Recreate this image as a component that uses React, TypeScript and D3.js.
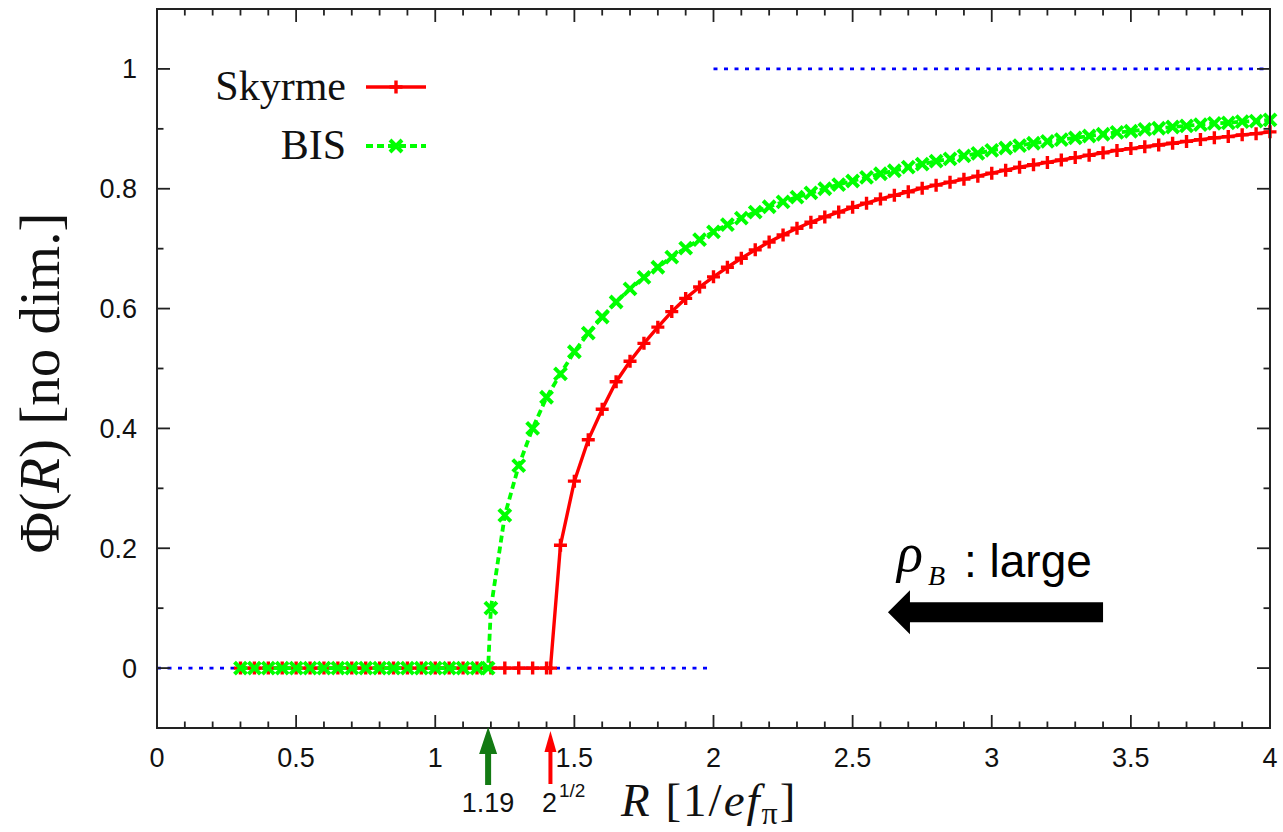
import React from "react";
import * as d3 from "d3";

// ---- data ----
const rGrid: number[] = [
  0.3, 0.35, 0.4, 0.45, 0.5, 0.55, 0.6, 0.65, 0.7, 0.75,
  0.8, 0.85, 0.9, 0.95, 1.0, 1.05, 1.1, 1.15, 1.2, 1.25,
  1.3, 1.35, 1.4, 1.45, 1.5, 1.55, 1.6, 1.65, 1.7, 1.75,
  1.8, 1.85, 1.9, 1.95, 2.0, 2.05, 2.1, 2.15, 2.2, 2.25,
  2.3, 2.35, 2.4, 2.45, 2.5, 2.55, 2.6, 2.65, 2.7, 2.75,
  2.8, 2.85, 2.9, 2.95, 3.0, 3.05, 3.1, 3.15, 3.2, 3.25,
  3.3, 3.35, 3.4, 3.45, 3.5, 3.55, 3.6, 3.65, 3.7, 3.75,
  3.8, 3.85, 3.9, 3.95, 4.0,
];

const skyrmePhi: number[] = [
  0, 0, 0, 0, 0, 0, 0, 0, 0, 0,
  0, 0, 0, 0, 0, 0, 0, 0, 0, 0,
  0, 0, 0, 0.205, 0.312, 0.381, 0.432, 0.478, 0.512, 0.542,
  0.569, 0.595, 0.617, 0.636, 0.653, 0.669, 0.684, 0.698, 0.711, 0.723,
  0.734, 0.744, 0.753, 0.761, 0.769, 0.776, 0.783, 0.789, 0.795, 0.801,
  0.806, 0.811, 0.816, 0.821, 0.826, 0.831, 0.836, 0.84, 0.844, 0.848,
  0.852, 0.856, 0.86, 0.864, 0.867, 0.87, 0.873, 0.876, 0.879, 0.882,
  0.885, 0.887, 0.89, 0.892, 0.895,
];

const bisPhi: number[] = [
  0, 0, 0, 0, 0, 0, 0, 0, 0, 0,
  0, 0, 0, 0, 0, 0, 0, 0, 0.1, 0.255,
  0.338, 0.4, 0.452, 0.491, 0.528, 0.559, 0.586, 0.611, 0.633, 0.652,
  0.669, 0.686, 0.701, 0.715, 0.728, 0.74, 0.751, 0.761, 0.77, 0.778,
  0.786, 0.793, 0.8, 0.807, 0.813, 0.819, 0.825, 0.83, 0.836, 0.841,
  0.846, 0.85, 0.855, 0.859, 0.864, 0.868, 0.872, 0.876, 0.879, 0.882,
  0.885, 0.888, 0.891, 0.894, 0.896, 0.899, 0.901, 0.903, 0.905, 0.907,
  0.909, 0.91, 0.912, 0.913, 0.915,
];

// critical (onset) points where Phi leaves zero
const skyrmeOnset = { r: 1.414, phi: 0 };
const bisOnset = { r: 1.19, phi: 0 };

const xTickLabels = ["0", "0.5", "1", "1.5", "2", "2.5", "3", "3.5", "4"];
const yTickLabels = ["0", "0.2", "0.4", "0.6", "0.8", "1"];

// reference lines: [r0, r1, phi]
const refLines: [number, number, number][] = [
  [0, 2, 0],
  [2, 4, 1],
];

const W = 1283;
const H = 832;
const SERIF = "'Liberation Serif', 'Times New Roman', serif";
const SANS = "'Liberation Sans', Arial, sans-serif";

type Pt = { r: number; phi: number };

function buildSeries(phis: number[], onset: Pt): Pt[] {
  const pts: Pt[] = rGrid.map((r, i) => ({ r, phi: phis[i] }));
  pts.push(onset);
  pts.sort((a, b) => a.r - b.r);
  return pts;
}

export default function App() {
  const x = d3.scaleLinear().domain([0, 4]).range([157, 1270]);
  const y = d3.scaleLinear().domain([-0.1, 1.1]).range([728, 9]);

  const skyrme = buildSeries(skyrmePhi, skyrmeOnset);
  const bis = buildSeries(bisPhi, bisOnset);

  const line = d3
    .line<Pt>()
    .x((d) => x(d.r))
    .y((d) => y(d.phi));

  const plusPath = "M-6.5,0H6.5M0,-6.5V6.5";
  const crossPath = "M-6,-6L6,6M-6,6L6,-6";

  const x0 = x(0), x1 = x(4), yTop = y(1.1), yBot = y(-0.1);

  const xTicks = d3.range(0, 41).map((i) => i / 10);
  const yTicks = d3.range(0, 11).map((i) => i / 10);

  const red = "#ff0000";
  const green = "#00ff00";
  const blue = "#0000ff";
  const axisCol = "#222";

  // annotation arrow (data coordinates)
  const bigArrow = { rTip: 2.627, rTail: 3.4, phi: 0.093 };
  const ax = x(bigArrow.rTip), axe = x(bigArrow.rTail), ay = y(bigArrow.phi);

  const gx = x(bisOnset.r);
  const rx = x(skyrmeOnset.r);

  return (
    <svg
      width={W}
      height={H}
      style={{ position: "absolute", left: 0, top: 0, background: "#fff" }}
    >
      <rect x={0} y={0} width={W} height={H} fill="#fff" />

      {/* reference dotted lines */}
      {refLines.map(([a, b, p], i) => (
        <line
          key={i}
          x1={x(a)}
          x2={x(b)}
          y1={y(p)}
          y2={y(p)}
          stroke={blue}
          strokeWidth={2.6}
          strokeDasharray="4,6.5"
        />
      ))}

      {/* Skyrme */}
      <path d={line(skyrme) || ""} fill="none" stroke={red} strokeWidth={3.4} />
      {skyrme.map((d, i) => (
        <path
          key={"s" + i}
          d={plusPath}
          transform={`translate(${x(d.r)},${y(d.phi)})`}
          stroke={red}
          strokeWidth={3.4}
          fill="none"
        />
      ))}

      {/* BIS */}
      <path
        d={line(bis) || ""}
        fill="none"
        stroke={green}
        strokeWidth={3.8}
        strokeDasharray="7,4"
      />
      {bis.map((d, i) => (
        <path
          key={"b" + i}
          d={crossPath}
          transform={`translate(${x(d.r)},${y(d.phi)})`}
          stroke={green}
          strokeWidth={4}
          fill="none"
        />
      ))}

      {/* frame */}
      <rect
        x={x0}
        y={yTop}
        width={x1 - x0}
        height={yBot - yTop}
        fill="none"
        stroke={axisCol}
        strokeWidth={2}
      />

      {/* x ticks */}
      {xTicks.map((t, i) => {
        const major = i % 5 === 0;
        const len = major ? 13 : 6.5;
        const px = x(t);
        return (
          <g key={"xt" + i}>
            <line x1={px} x2={px} y1={yBot} y2={yBot - len} stroke={axisCol} strokeWidth={1.8} />
            <line x1={px} x2={px} y1={yTop} y2={yTop + len} stroke={axisCol} strokeWidth={1.8} />
          </g>
        );
      })}
      {/* y ticks */}
      {yTicks.map((t, i) => {
        const major = i % 2 === 0;
        const len = major ? 13 : 6.5;
        const py = y(t);
        return (
          <g key={"yt" + i}>
            <line x1={x0} x2={x0 + len} y1={py} y2={py} stroke={axisCol} strokeWidth={1.8} />
            <line x1={x1} x2={x1 - len} y1={py} y2={py} stroke={axisCol} strokeWidth={1.8} />
          </g>
        );
      })}

      {/* x tick labels */}
      {xTickLabels.map((lab) => (
        <text
          key={"xl" + lab}
          x={x(+lab)}
          y={767}
          textAnchor="middle"
          fontFamily={SANS}
          fontSize={27}
          fill="#111"
        >
          {lab}
        </text>
      ))}
      {/* y tick labels */}
      {yTickLabels.map((lab) => (
        <text
          key={"yl" + lab}
          x={137}
          y={y(+lab) + 9.5}
          textAnchor="end"
          fontFamily={SANS}
          fontSize={27}
          fill="#111"
        >
          {lab}
        </text>
      ))}

      {/* axis titles */}
      <text x={621} y={816} fontFamily={SERIF} fontSize={47} letterSpacing={2} fill="#111">
        <tspan fontStyle="italic">R</tspan>
        <tspan> [1/</tspan>
        <tspan fontStyle="italic">ef</tspan>
        <tspan fontSize={32} dy={8}>π</tspan>
        <tspan dy={-8}>]</tspan>
      </text>
      <text
        transform="translate(59,383) rotate(-90)"
        textAnchor="middle"
        fontFamily={SERIF}
        fontSize={57}
        fill="#111"
      >
        <tspan>Φ(</tspan>
        <tspan fontStyle="italic">R</tspan>
        <tspan>) [no dim.]</tspan>
      </text>

      {/* legend */}
      <text x={346} y={100} textAnchor="end" fontFamily={SERIF} fontSize={42} fill="#111">
        Skyrme
      </text>
      <line x1={366} x2={426} y1={87} y2={87} stroke={red} strokeWidth={3.4} />
      <path d={plusPath} transform="translate(396,87)" stroke={red} strokeWidth={3.4} fill="none" />
      <text x={346} y={159} textAnchor="end" fontFamily={SERIF} fontSize={42} fill="#111">
        BIS
      </text>
      <line
        x1={366}
        x2={426}
        y1={146}
        y2={146}
        stroke={green}
        strokeWidth={3.8}
        strokeDasharray="7,4"
      />
      <path d={crossPath} transform="translate(396,146)" stroke={green} strokeWidth={4} fill="none" />

      {/* critical point arrows below the axis */}
      <g>
        <rect x={gx - 3} y={752} width={6} height={33} fill="#137a13" />
        <path d={`M${gx},${yBot - 1} L${gx + 9},${754} L${gx - 9},${754} Z`} fill="#137a13" />
        <text x={gx} y={812} textAnchor="middle" fontFamily={SANS} fontSize={27} fill="#111">
          1.19
        </text>
      </g>
      <g>
        <rect x={rx - 2} y={750} width={4} height={34} fill={red} />
        <path d={`M${rx},${yBot + 3} L${rx + 6},${752} L${rx - 6},${752} Z`} fill={red} />
        <text x={542} y={812} fontFamily={SANS} fontSize={27} fill="#111">
          2
        </text>
        <text x={559} y={797} fontFamily={SANS} fontSize={19} fill="#111">
          1/2
        </text>
      </g>

      {/* rho_B : large annotation */}
      <text x={897} y={571} fontFamily={SERIF} fontSize={54} fontStyle="italic" fill="#000">
        ρ
      </text>
      <text x={928} y={585} fontFamily={SERIF} fontSize={28} fontStyle="italic" fill="#000">
        B
      </text>
      <text x={964} y={577} fontFamily={SANS} fontSize={46} fill="#000">
        : large
      </text>
      <path
        d={`M${ax},${ay} L${ax + 22},${ay - 22} L${ax + 22},${ay - 10} L${axe},${ay - 10} L${axe},${ay + 10} L${ax + 22},${ay + 10} L${ax + 22},${ay + 22} Z`}
        fill="#000"
      />
    </svg>
  );
}
